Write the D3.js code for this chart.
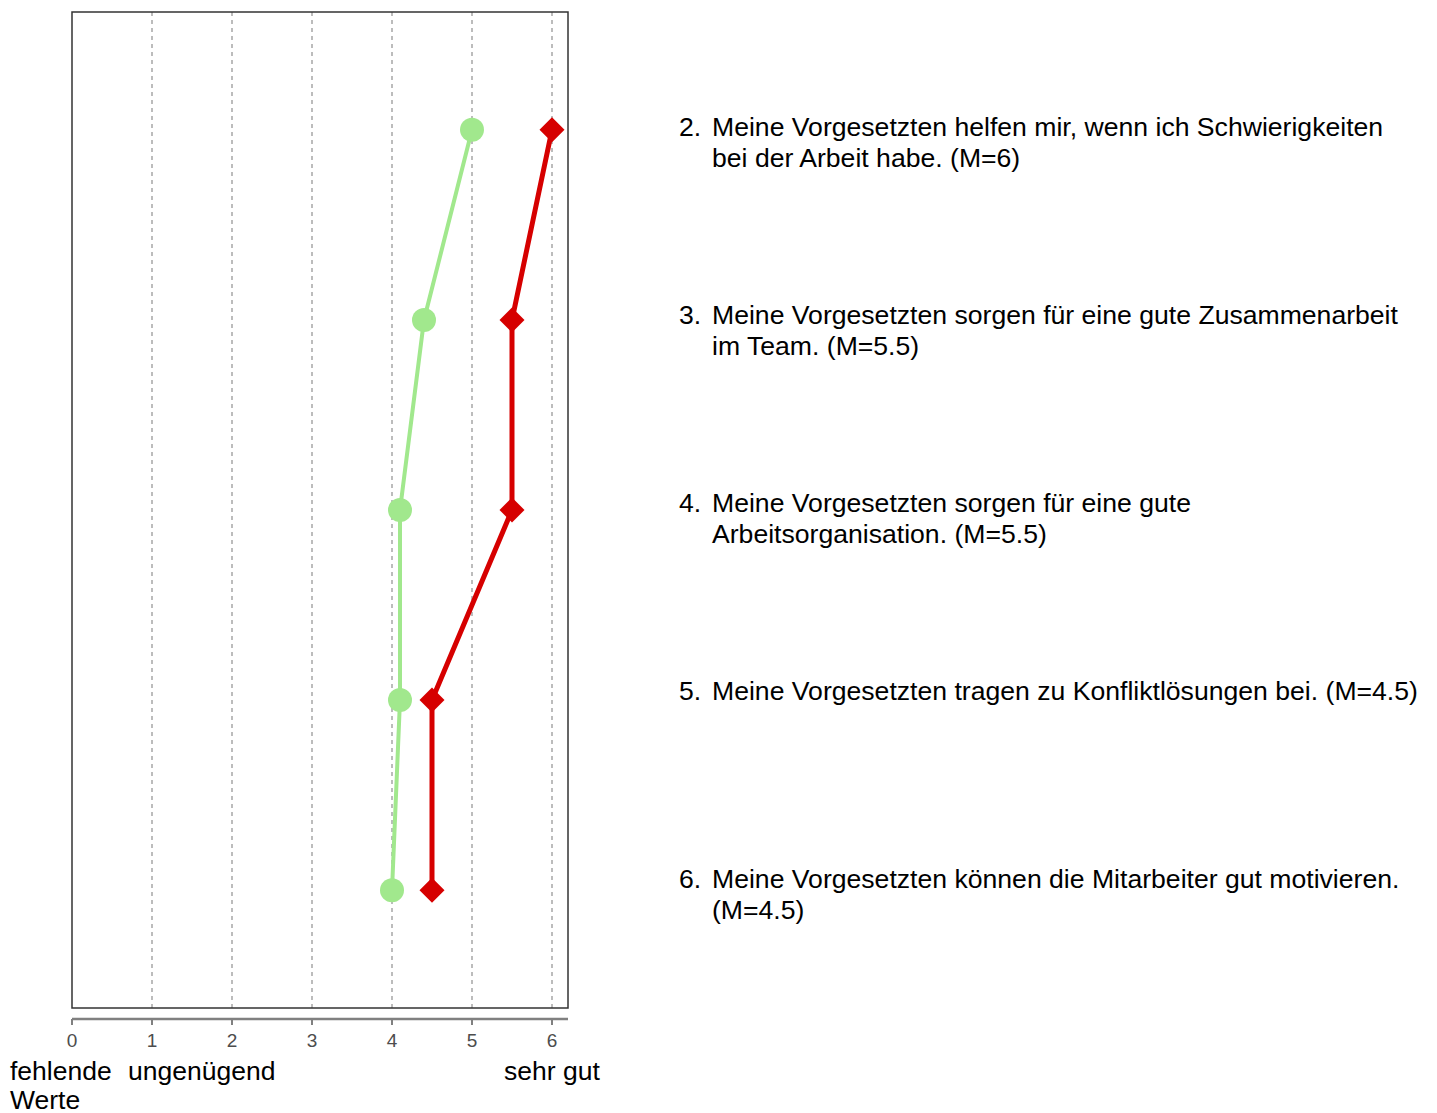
<!DOCTYPE html>
<html>
<head>
<meta charset="utf-8">
<script src="https://cdn.jsdelivr.net/npm/d3@7"></script>
<style>
body { margin: 0; background: #fff; }
svg { display: block; font-family: "Liberation Sans", Arial, sans-serif; }
</style>
</head>
<body>
<svg id="chart" width="1437" height="1113"></svg>
<script>
// items (top to bottom)
var items = [
	"2. Meine Vorgesetzten helfen mir, wenn ich Schwierigkeiten|bei der Arbeit habe. (M=6)",
	"3. Meine Vorgesetzten sorgen für eine gute Zusammenarbeit|im Team. (M=5.5)",
	"4. Meine Vorgesetzten sorgen für eine gute|Arbeitsorganisation. (M=5.5)",
	"5. Meine Vorgesetzten tragen zu Konfliktlösungen bei. (M=4.5)",
	"6. Meine Vorgesetzten können die Mitarbeiter gut motivieren.|(M=4.5)"
];
var greenValues = [5.0, 4.4, 4.1, 4.1, 4.0];
var redValues = [6, 5.5, 5.5, 4.5, 4.5];
var xTicks = [0, 1, 2, 3, 4, 5, 6];
var scaleLabels = [
	{v: 0, lines: ["fehlende", "Werte"], anchor: "start", dx: -62},
	{v: 1, lines: ["ungenügend"], anchor: "start", dx: -24},
	{v: 6, lines: ["sehr gut"], anchor: "middle", dx: 0}
];

var svg = d3.select("#chart");
var pLeft = 72, pRight = 568, pTop = 12, pBottom = 1008;

var x = d3.scaleLinear().domain([0, 6.2]).range([pLeft, pRight]);
var y = d3.scalePoint().domain(d3.range(items.length)).range([pTop, pBottom]).padding(0.62);
// text rows are set a bit tighter than the points
var yText = d3.scaleLinear().domain([0, items.length - 1]).range([127, 879]);

// grid
svg.append("g").selectAll("line")
	.data(xTicks.filter(function(d) { return d > 0; }))
	.join("line")
	.attr("x1", function(d) { return x(d); })
	.attr("x2", function(d) { return x(d); })
	.attr("y1", pTop)
	.attr("y2", pBottom)
	.attr("stroke", "#999")
	.attr("stroke-width", 1.3)
	.attr("stroke-dasharray", "4,4");

// box
svg.append("rect")
	.attr("x", pLeft).attr("y", pTop)
	.attr("width", pRight - pLeft).attr("height", pBottom - pTop)
	.attr("fill", "none")
	.attr("stroke", "#333")
	.attr("stroke-width", 1.5);

// axis
var axisY = 1019;
svg.append("line")
	.attr("x1", pLeft).attr("x2", pRight)
	.attr("y1", axisY).attr("y2", axisY)
	.attr("stroke", "#808080").attr("stroke-width", 2.5);
svg.append("g").selectAll("line")
	.data(xTicks)
	.join("line")
	.attr("x1", function(d) { return x(d); })
	.attr("x2", function(d) { return x(d); })
	.attr("y1", axisY).attr("y2", axisY + 6)
	.attr("stroke", "#808080").attr("stroke-width", 2);
svg.append("g").selectAll("text")
	.data(xTicks)
	.join("text")
	.attr("x", function(d) { return x(d); })
	.attr("y", 1047)
	.attr("text-anchor", "middle")
	.attr("font-size", 19)
	.attr("fill", "#4d4d4d")
	.text(function(d) { return d; });

// scale labels
var sl = svg.append("g").selectAll("text")
	.data(scaleLabels)
	.join("text")
	.attr("x", function(d) { return x(d.v) + d.dx; })
	.attr("y", 1080)
	.attr("text-anchor", function(d) { return d.anchor; })
	.attr("font-size", 26.5)
	.attr("fill", "#000");
sl.selectAll("tspan")
	.data(function(d) { return d.lines.map(function(l) { return {l: l, x: x(d.v) + d.dx}; }); })
	.join("tspan")
	.attr("x", function(d) { return d.x; })
	.attr("dy", function(d, i) { return i === 0 ? 0 : 29; })
	.text(function(d) { return d.l; });

// lines
var line = d3.line()
	.x(function(d) { return x(d); })
	.y(function(d, i) { return y(i); });

svg.append("path")
	.attr("d", line(greenValues))
	.attr("fill", "none")
	.attr("stroke", "#a1e88d")
	.attr("stroke-width", 4);
svg.append("path")
	.attr("d", line(redValues))
	.attr("fill", "none")
	.attr("stroke", "#d60000")
	.attr("stroke-width", 5);

svg.append("g").selectAll("circle")
	.data(greenValues)
	.join("circle")
	.attr("cx", function(d) { return x(d); })
	.attr("cy", function(d, i) { return y(i); })
	.attr("r", 12)
	.attr("fill", "#a1e88d");

var diamond = d3.symbol().type(d3.symbolDiamond2).size(400);
svg.append("g").selectAll("path")
	.data(redValues)
	.join("path")
	.attr("d", diamond)
	.attr("transform", function(d, i) { return "translate(" + x(d) + "," + y(i) + ")"; })
	.attr("fill", "#d60000");

// item labels
var lab = svg.append("g").selectAll("g")
	.data(items)
	.join("g")
	.attr("transform", function(d, i) { return "translate(0," + (yText(i) + 9) + ")"; });
lab.append("text")
	.attr("x", 679)
	.attr("font-size", 26.6)
	.text(function(d) { return d.split(" ")[0]; });
lab.each(function(d) {
	var parts = d.substring(d.indexOf(" ") + 1).split("|");
	var t = d3.select(this).append("text").attr("font-size", 26.6);
	t.selectAll("tspan")
		.data(parts)
		.join("tspan")
		.attr("x", 712)
		.attr("dy", function(p, i) { return i === 0 ? 0 : 31; })
		.text(function(p) { return p; });
});
</script>
</body>
</html>
